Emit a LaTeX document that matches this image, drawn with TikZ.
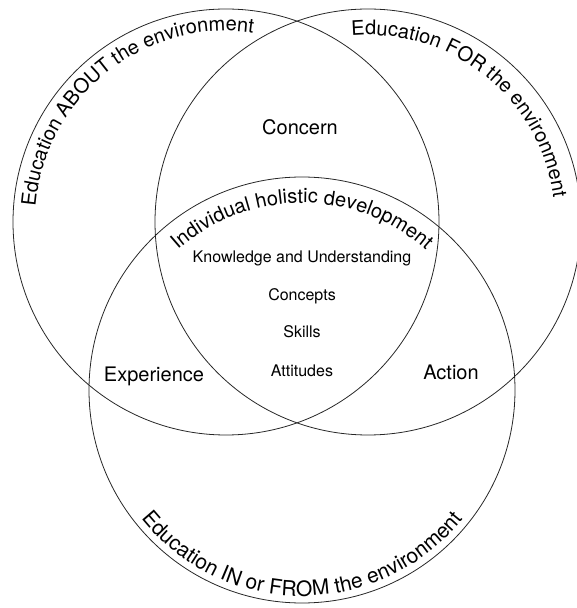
\documentclass[tikz,border=0pt]{standalone}
\usepackage{fontspec}
\setmainfont{TeX Gyre Heros}
\usetikzlibrary{decorations.text}
\newcommand\curvefont{\fontsize{20}{24}\selectfont}
\newcommand\bottomfont{\fontsize{21}{25}\selectfont}
\begin{document}
\begin{tikzpicture}[x=1pt,y=1pt,
  ring/.style={draw=black!85, line width=0.8pt},
  biglabel/.style={font=\fontsize{20}{24}\selectfont, anchor=base, inner sep=0pt},
  smalllabel/.style={font=\fontsize{16}{19}\selectfont, anchor=base, inner sep=0pt}]
\useasboundingbox (0,0) rectangle (577,608);

% circle centres
\coordinate (L) at (226,386);
\coordinate (R) at (368,386);
\coordinate (B) at (302,218);

% the three circles
\draw[ring] (L) circle[radius=213];
\draw[ring] (R) circle[radius=213];
\draw[ring] (B) circle[radius=213];

% curved titles
\path[shift={(L)}, decorate, decoration={text along path,
  text={|\curvefont|Education ABOUT the environment}}]
  (175.5:191) arc[start angle=175.5, end angle=40, radius=191];
\path[shift={(R)}, decorate, decoration={text along path,
  text={|\curvefont|Education FOR the environment}}]
  (95:187) arc[start angle=95, end angle=-40, radius=187];
\path[shift={(B)}, decorate, decoration={text along path, text align=center,
  text={|\bottomfont|Education IN or FROM the environment}}]
  (195:206) arc[start angle=195, end angle=345, radius=206];
\path[shift={(B)}, decorate, decoration={text along path, text align=center,
  text={|\curvefont|Individual holistic development}}]
  (150:187) arc[start angle=150, end angle=30, radius=187];

% region labels
\node[biglabel] (concern) at (300,473) {Concern};
\node[biglabel] (experience) at (154,226) {Experience};
\node[biglabel] (action) at (451,228) {Action};

% centre list
\node[smalllabel] (knowledge) at (302,345) {Knowledge and Understanding};
\node[smalllabel] (concepts) at (302,307) {Concepts};
\node[smalllabel] (skills) at (302,270) {Skills};
\node[smalllabel] (attitudes) at (302,231) {Attitudes};
\end{tikzpicture}
\end{document}
